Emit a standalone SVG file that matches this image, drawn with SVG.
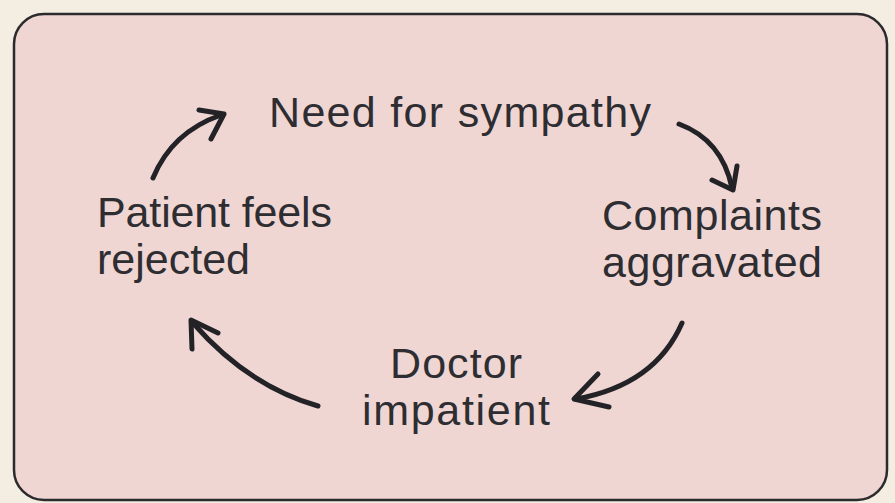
<svg xmlns="http://www.w3.org/2000/svg" width="895" height="503" viewBox="0 0 895 503">
<style>
.lbl{font-family:"Liberation Sans",Arial,sans-serif;font-size:43px;fill:#2e2d31}
.arr{fill:none;stroke:#232226;stroke-width:5;stroke-linecap:round;stroke-linejoin:round}
</style>
<rect x="0" y="0" width="895" height="503" fill="#f3eee1"/>
<rect id="frame" x="14" y="14" width="873" height="486" rx="30" ry="30" fill="#efd6d3" stroke="#2b2a2c" stroke-width="2.5"/>
<g id="n1"><text class="lbl" x="269" y="127" textLength="382" lengthAdjust="spacing">Need for sympathy</text></g>
<g id="n2"><text class="lbl" x="602" y="230" textLength="220" lengthAdjust="spacing">Complaints</text><text class="lbl" x="602" y="277" textLength="220" lengthAdjust="spacing">aggravated</text></g>
<g id="n3"><text class="lbl" x="390" y="378" textLength="132" lengthAdjust="spacing">Doctor</text><text class="lbl" x="362" y="425" textLength="188" lengthAdjust="spacing">impatient</text></g>
<g id="n4"><text class="lbl" x="97" y="227" textLength="235" lengthAdjust="spacing">Patient feels</text><text class="lbl" x="97" y="274" textLength="153" lengthAdjust="spacing">rejected</text></g>
<g id="connectors">
<path class="arr" d="M153,178 Q172,132 221,115"/>
<path class="arr" d="M199,110 L224,114 L211,139"/>
<path class="arr" d="M679,124 Q722,140 732,188"/>
<path class="arr" d="M712,180 L733,190 L737,166"/>
<path class="arr" d="M682,323 Q655,385 576,399"/>
<path class="arr" d="M598,374 L574,399 L609,407"/>
<path class="arr" d="M318,406 Q248,386 193,323"/>
<path class="arr" d="M218,333 L191,320 L192,349"/>
</g>
</svg>
